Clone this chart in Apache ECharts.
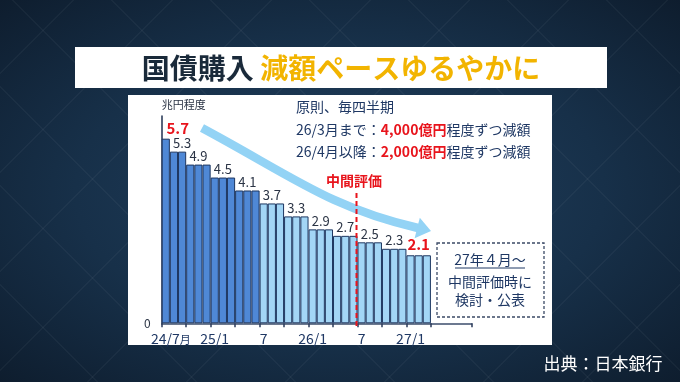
<!DOCTYPE html>
<html>
<head>
<meta charset="utf-8">
<script src="https://cdn.jsdelivr.net/npm/echarts@6/dist/echarts.min.js"></script>
<style>
html,body{margin:0;padding:0;}
body{width:680px;height:382px;overflow:hidden;
background:
 repeating-linear-gradient(45deg, rgba(255,255,255,0) 0px, rgba(255,255,255,0) 68px, rgba(255,255,255,0.035) 68px, rgba(255,255,255,0.035) 70px),
 repeating-linear-gradient(-45deg, rgba(255,255,255,0) 0px, rgba(255,255,255,0) 68px, rgba(255,255,255,0.035) 68px, rgba(255,255,255,0.035) 70px),
 radial-gradient(ellipse at 50% 50%, #21405f 0%, #173049 55%, #0e1d2e 100%);}
#c{width:680px;height:382px;}
</style>
</head>
<body>
<div id="c"></div>
<script>
// ---- data ----
const months = ['24/7','24/8','24/9','24/10','24/11','24/12','25/1','25/2','25/3','25/4','25/5','25/6',
  '25/7','25/8','25/9','25/10','25/11','25/12','26/1','26/2','26/3','26/4','26/5','26/6',
  '26/7','26/8','26/9','26/10','26/11','26/12','27/1','27/2','27/3','27/4','27/5','27/6','27/7','27/8'];
const purchases = [5.7, 5.3,5.3, 4.9,4.9,4.9, 4.5,4.5,4.5, 4.1,4.1,4.1,
  3.7,3.7,3.7, 3.3,3.3,3.3, 2.9,2.9,2.9, 2.7,2.7,2.7, 2.5,2.5,2.5, 2.3,2.3,2.3, 2.1,2.1,2.1];
const decidedCount = 12;               // bars decided before (darker)
const labelBars = [0,2,4,7,10,13,16,19,22,25,28,31];  // bars carrying a value label
const highlightBars = [0,31];          // red labels
const tickLabelIdx = [0,6,12,18,24,30];
const tickLabelText = ['24/7','25/1','7','26/1','7','27/1'];
const yTicks = [0];

const NAVY = '#1f3864', RED = '#e8141c', FONT = '"Noto Sans CJK JP", "Noto Sans", sans-serif';

const barData = purchases.map((v, i) => {
  const item = {value: v};
  if (labelBars.indexOf(i) >= 0) {
    const hi = highlightBars.indexOf(i) >= 0;
    item.label = {
      show: true, position: 'top',
      distance: hi ? 3 : 2,
      offset: i === 0 ? [12, 0] : [0, 0],
      color: hi ? RED : '#2b3445',
      fontSize: hi ? 15 : 13,
      fontWeight: hi ? 'bold' : 'normal',
      fontFamily: FONT,
      formatter: v.toFixed(1)
    };
  }
  return item;
});

const chart = echarts.init(document.getElementById('c'), null, {renderer: 'canvas'});
chart.setOption({
  backgroundColor: 'transparent',
  animation: false,
  textStyle: {fontFamily: FONT},
  grid: {left: 161.7, top: 116, width: 310, height: 207.3, containLabel: false},
  xAxis: {
    type: 'category', data: months, boundaryGap: true,
    axisLine: {lineStyle: {color: '#3d4d6c', width: 1.5}},
    axisTick: {show: true, length: 4, lineStyle: {color: '#2a3a5a', width: 1.5},
      interval: (idx) => idx % 3 === 0 && idx <= purchases.length},
    axisLabel: {
      interval: (idx) => tickLabelIdx.indexOf(idx) >= 0,
      margin: 8, color: NAVY, fontSize: 14, fontFamily: FONT,
      formatter: (val, idx) => {
        const k = tickLabelIdx.indexOf(idx);
        if (k < 0) return '';
        return k === 0 ? '{p|}' + tickLabelText[k] + '{m|月}' : tickLabelText[k];
      },
      rich: {p: {width: 10}, m: {fontSize: 11, color: NAVY, padding: [3, 0, 0, 0]}}
    },
    splitLine: {show: false}
  },
  yAxis: {
    type: 'value', min: 0, max: 6.4, interval: 6.4,
    name: '兆円程度', nameLocation: 'end', nameGap: 6,
    nameTextStyle: {align: 'left', fontSize: 11, color: '#2b3445', fontFamily: FONT, padding: [0, 0, 0, 0]},
    axisLine: {show: true, lineStyle: {color: '#1f3050', width: 1.5}},
    axisTick: {show: false},
    splitLine: {show: false},
    axisLabel: {margin: 11, color: '#2b3445', fontSize: 12, fontFamily: FONT,
      formatter: (v) => yTicks.indexOf(v) >= 0 ? String(v) : ''}
  },
  series: [{
    type: 'bar', data: barData, barCategoryGap: '0%', z: 3,
    itemStyle: {
      borderColor: '#1d3660', borderWidth: 1,
      color: (p) => p.dataIndex < decidedCount ? '#4f88d6' : '#a3d6f6'
    }
  }],
  graphic: [
    // white panels
    {type: 'rect', z: -10, shape: {x: 75, y: 47, width: 532, height: 41}, style: {fill: '#ffffff'}},
    {type: 'rect', z: -10, shape: {x: 128, y: 95, width: 424, height: 250}, style: {fill: '#ffffff'}},
    // title
    {type: 'text', z: 10, x: 341, y: 68, style: {
      text: '{a|国債購入} {b|減額ペースゆるやかに}', align: 'center', verticalAlign: 'middle',
      rich: {
        a: {fontSize: 28, fontWeight: 'bold', fill: '#1a2a3a', fontFamily: FONT},
        b: {fontSize: 28, fontWeight: 'bold', fill: '#f2b400', fontFamily: FONT}
      }, fontSize: 28, fontFamily: FONT}},
    // explanatory text
    {type: 'text', z: 10, x: 296, y: 107, style: {text: '原則、毎四半期', fill: NAVY, fontSize: 14, fontFamily: FONT, verticalAlign: 'middle'}},
    {type: 'text', z: 10, x: 296, y: 130, style: {
      text: '{n|26/3月まで：}{r|4,000億円}{n|程度ずつ減額}', verticalAlign: 'middle',
      rich: {n: {fill: NAVY, fontSize: 14, fontFamily: FONT}, r: {fill: RED, fontSize: 14, fontWeight: 'bold', fontFamily: FONT}}}},
    {type: 'text', z: 10, x: 296, y: 152, style: {
      text: '{n|26/4月以降：}{r|2,000億円}{n|程度ずつ減額}', verticalAlign: 'middle',
      rich: {n: {fill: NAVY, fontSize: 14, fontFamily: FONT}, r: {fill: RED, fontSize: 14, fontWeight: 'bold', fontFamily: FONT}}}},
    // mid-term review
    {type: 'text', z: 10, x: 354, y: 181, style: {text: '中間評価', fill: RED, fontSize: 14, fontWeight: 'bold', fontFamily: FONT, align: 'center', verticalAlign: 'middle'}},
    {type: 'line', z: 20, shape: {x1: 356.5, y1: 193, x2: 356.5, y2: 326}, style: {stroke: RED, lineWidth: 2, lineDash: [5, 3]}},
    // arrow
    {type: 'bezierCurve', z: 15, shape: {x1: 202, y1: 128, cpx1: 290, cpy1: 175, cpx2: 330, cpy2: 208, x2: 418, y2: 228},
      style: {stroke: '#93d3f5', lineWidth: 8.5, fill: null}},
    {type: 'polygon', z: 15, shape: {points: [[431, 231], [414.6, 238.2], [419.8, 217.8]]}, style: {fill: '#93d3f5'}},
    // dashed note box
    {type: 'rect', z: 10, shape: {x: 437, y: 243, width: 107, height: 74}, style: {fill: '#ffffff', stroke: '#3b4a66', lineWidth: 1.3, lineDash: [3, 2]}},
    {type: 'text', z: 11, x: 490, y: 260, style: {text: '27年４月～', fill: NAVY, fontSize: 14, fontFamily: FONT, align: 'center', verticalAlign: 'middle'}},
    {type: 'line', z: 11, shape: {x1: 455, y1: 268, x2: 525, y2: 268}, style: {stroke: NAVY, lineWidth: 1}},
    {type: 'text', z: 11, x: 490, y: 282, style: {text: '中間評価時に', fill: NAVY, fontSize: 14, fontFamily: FONT, align: 'center', verticalAlign: 'middle'}},
    {type: 'text', z: 11, x: 490, y: 300, style: {text: '検討・公表', fill: NAVY, fontSize: 14, fontFamily: FONT, align: 'center', verticalAlign: 'middle'}},
    // source
    {type: 'text', z: 10, x: 603, y: 364, style: {text: '出典：日本銀行', fill: '#ffffff', fontSize: 17, fontFamily: FONT, align: 'center', verticalAlign: 'middle'}}
  ]
});
</script>
</body>
</html>
